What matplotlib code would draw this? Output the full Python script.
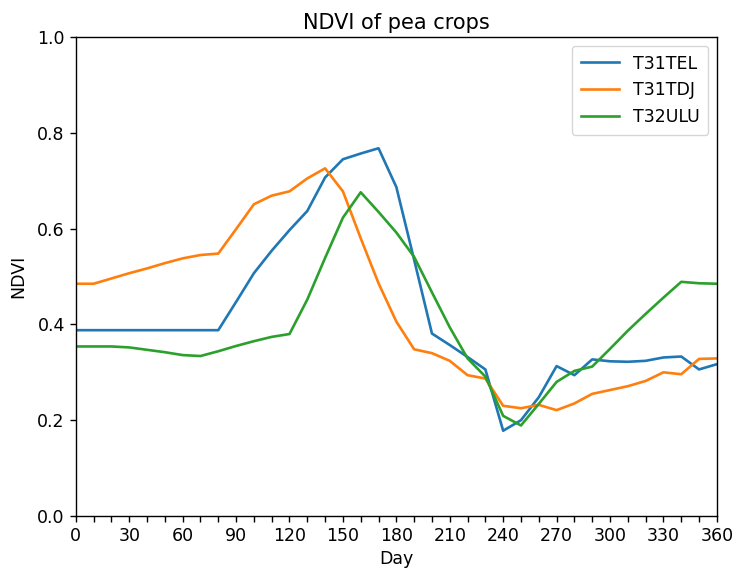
import matplotlib.pyplot as plt
import numpy as np

days = list(range(0, 361, 10))

# NDVI per tile
t31tel = [0.388, 0.388, 0.388, 0.388, 0.388, 0.388, 0.388, 0.388, 0.388,
          0.447, 0.507, 0.554, 0.597, 0.637, 0.707, 0.745, 0.757, 0.768,
          0.687, 0.535, 0.381, 0.357, 0.332, 0.306, 0.178, 0.200, 0.248,
          0.313, 0.294, 0.327, 0.323, 0.322, 0.324, 0.331, 0.333, 0.306, 0.317]
t31tdj = [0.485, 0.485, 0.496, 0.507, 0.517, 0.528, 0.538, 0.545, 0.548,
          0.599, 0.651, 0.669, 0.678, 0.705, 0.726, 0.678, 0.580, 0.486,
          0.406, 0.348, 0.340, 0.324, 0.294, 0.287, 0.230, 0.225, 0.232,
          0.221, 0.235, 0.255, 0.263, 0.271, 0.282, 0.300, 0.296, 0.328, 0.329]
t32ulu = [0.354, 0.354, 0.354, 0.352, 0.347, 0.342, 0.336, 0.334, 0.344,
          0.355, 0.365, 0.374, 0.380, 0.452, 0.539, 0.623, 0.676, 0.635,
          0.592, 0.541, 0.467, 0.394, 0.329, 0.291, 0.209, 0.189, 0.234,
          0.280, 0.303, 0.312, 0.349, 0.387, 0.422, 0.456, 0.489, 0.486, 0.485]

plt.rcParams['font.size'] = 12.5
plt.rcParams['axes.linewidth'] = 1.0
plt.rcParams['xtick.major.size'] = 4.4
plt.rcParams['ytick.major.size'] = 4.4
plt.rcParams['xtick.major.width'] = 1.0
plt.rcParams['ytick.major.width'] = 1.0

fig = plt.figure(figsize=(7.36, 5.72), dpi=100)
ax = fig.add_axes([0.103, 0.098, 0.871, 0.837])

ax.plot(days, t31tel, label="T31TEL", linewidth=1.9)
ax.plot(days, t31tdj, label="T31TDJ", linewidth=1.9)
ax.plot(days, t32ulu, label="T32ULU", linewidth=1.9)

ax.set_xlim(0, 360)
ax.set_ylim(0, 1.0)
ax.set_xticks(days)
ax.set_xticklabels([str(d) if d % 30 == 0 else "" for d in days])
ax.set_yticks(np.arange(0, 1.01, 0.2))
ax.set_xlabel("Day")
ax.set_ylabel("NDVI", labelpad=7)
ax.set_title("NDVI of pea crops", fontsize=15)
ax.legend(loc="upper right", handlelength=2.2, borderpad=0.5)

fig.savefig("out.png", dpi=100)
